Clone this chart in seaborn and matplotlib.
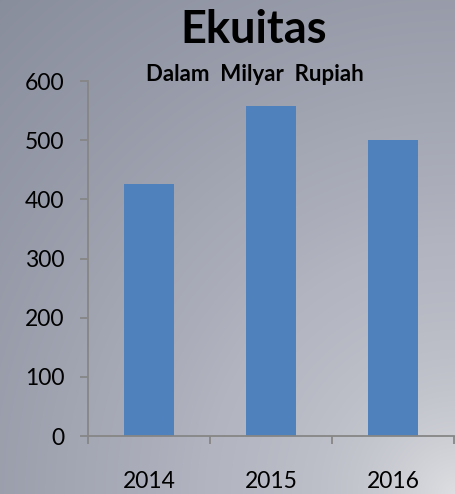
import numpy as np
import pandas as pd
import matplotlib
matplotlib.use("Agg")
import matplotlib.pyplot as plt
import seaborn as sns

years = ["2014", "2015", "2016"]
values = [426, 558, 500]
title = "Ekuitas"
subtitle = "Dalam  Milyar  Rupiah"
yticks = [0, 100, 200, 300, 400, 500, 600]

sns.set_theme(style="white")
plt.rcParams["font.family"] = ["Lato", "DejaVu Sans"]

W, H = 456, 494
fig = plt.figure(figsize=(W / 100, H / 100), dpi=100)

# background gradient
yy, xx = np.mgrid[0:H, 0:W]
d = np.sqrt((W - xx) ** 2 + (H - yy) ** 2)
light = np.array([222, 223, 226]) / 255
near = np.array([168, 171, 184]) / 255
far = np.array([136, 141, 156]) / 255
t = np.clip((d - 250) / 420, 0, 1)[..., None]
base = near * (1 - t) + far * t
f = np.exp(-d / 150)[..., None]
img = base * (1 - f) + light * f
bg = fig.add_axes([0, 0, 1, 1])
bg.imshow(img, aspect="auto", extent=[0, 1, 0, 1], origin="upper")
bg.axis("off")

ax = fig.add_axes([88 / W, 58 / H, 366 / W, 355 / H])
ax.set_facecolor("none")
df = pd.DataFrame({"year": years, "value": values})
sns.barplot(data=df, x="year", y="value", color="#4F81BD", saturation=1,
            width=0.41, linewidth=0, ax=ax)
ax.set_xlim(-0.5, 2.5)
ax.set_ylim(0, 600)
ax.set_yticks(yticks)
ax.set_xlabel("")
ax.set_ylabel("")
for s in ["top", "right"]:
    ax.spines[s].set_visible(False)
for s in ["left", "bottom"]:
    ax.spines[s].set_color("#868686")
    ax.spines[s].set_linewidth(1.3)
ax.tick_params(axis="y", which="major", direction="out", length=6, width=1.3,
               color="#868686", labelsize=16.5, pad=11, labelcolor="black", left=True)
ax.set_xticks([-0.5, 0.5, 1.5, 2.5], minor=True)
ax.tick_params(axis="x", which="minor", direction="out", length=6, width=1.3,
               color="#868686", bottom=True)
ax.tick_params(axis="x", which="major", length=0, labelsize=16.5, pad=25,
               labelcolor="black")

fig.text(254 / W, 1 - 43 / H, title, ha="center", va="baseline",
         fontsize=32.5, fontweight="bold", color="black")
fig.text(255 / W, 1 - 81 / H, subtitle, ha="center", va="baseline",
         fontsize=16, fontweight="bold", color="black")

fig.savefig("out.png", dpi=100)
